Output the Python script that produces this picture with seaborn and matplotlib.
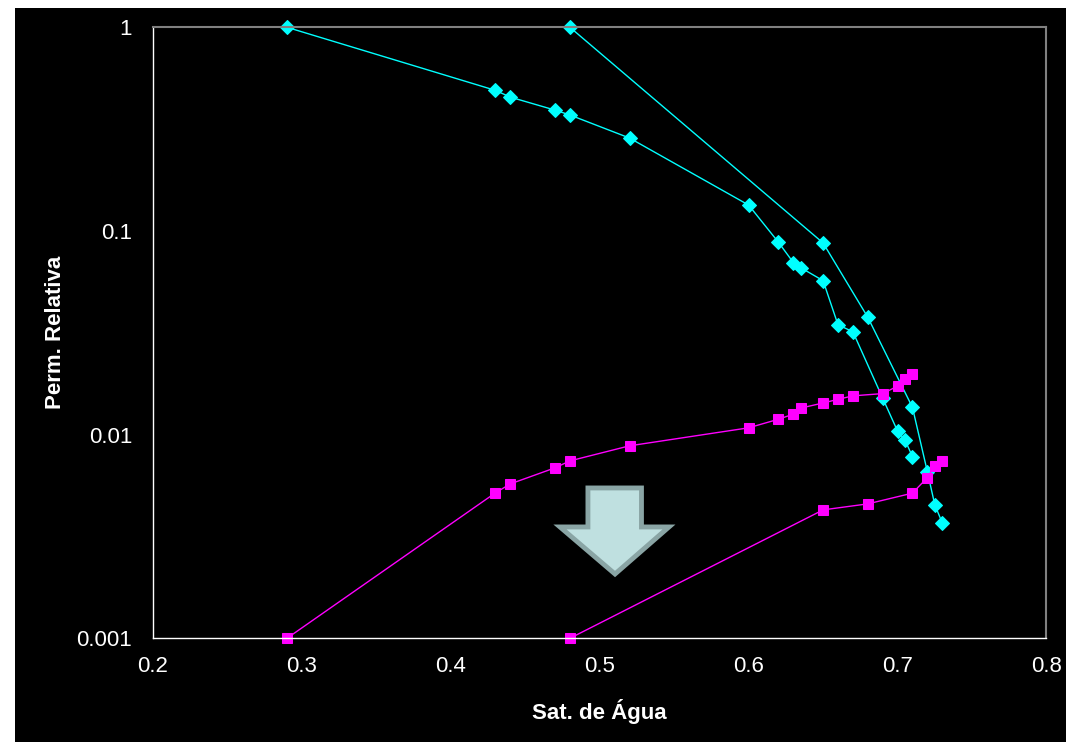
import matplotlib
matplotlib.use('Agg')
import matplotlib.pyplot as plt
from matplotlib.patches import Rectangle, Polygon
import seaborn as sns
import pandas as pd

# Curvas de permeabilidade relativa
sw_a = [0.29, 0.43, 0.44, 0.47, 0.48, 0.52, 0.60, 0.62, 0.63, 0.635,
        0.65, 0.66, 0.67, 0.69, 0.70, 0.705, 0.71]
kro_a = [1.0, 0.49, 0.454, 0.392, 0.371, 0.286, 0.134, 0.088, 0.070, 0.066,
         0.057, 0.0346, 0.032, 0.0151, 0.0104, 0.0094, 0.0078]
krw_a = [0.001, 0.00518, 0.00573, 0.00687, 0.00743, 0.00881, 0.0108, 0.0119,
         0.0126, 0.0135, 0.0143, 0.0149, 0.0155, 0.0159, 0.0173, 0.0188, 0.0198]

sw_b = [0.48, 0.65, 0.68, 0.71, 0.72, 0.725, 0.73]
kro_b = [1.0, 0.0873, 0.0377, 0.0136, 0.00658, 0.00452, 0.00369]
krw_b = [0.001, 0.00427, 0.00457, 0.00516, 0.00615, 0.00704, 0.00745]

xticks = [0.2, 0.3, 0.4, 0.5, 0.6, 0.7, 0.8]
yticks = [0.001, 0.01, 0.1, 1]
ytick_labels = ['0.001', '0.01', '0.1', '1']

sns.set_style('dark')
plt.rcParams['font.family'] = ['Liberation Sans', 'DejaVu Sans']

fig = plt.figure(figsize=(10.66, 7.42), dpi=100, facecolor='white')
# fundo preto (deixa uma borda branca em cima e a esquerda)
fig.patches.append(Rectangle((15 / 1066, 0), 1 - 15 / 1066, 1 - 8 / 742,
                             transform=fig.transFigure, facecolor='black',
                             edgecolor='none', zorder=-10))
ax = fig.add_axes([0.1435, 0.1398, 0.9817 - 0.1435, 0.9632 - 0.1398])
ax.set_zorder(1)
ax.set_facecolor('black')

series = [
    (sw_a, kro_a, '#00FFFF', 'D', 7),
    (sw_b, kro_b, '#00FFFF', 'D', 7),
    (sw_a, krw_a, '#FF00FF', 's', 6.5),
    (sw_b, krw_b, '#FF00FF', 's', 6.5),
]
for sw, kr, cor, mk, ms in series:
    df = pd.DataFrame({'Sw': sw, 'kr': kr})
    sns.lineplot(data=df, x='Sw', y='kr', ax=ax, color=cor, marker=mk,
                 markersize=ms, markeredgecolor=cor, linewidth=1.0,
                 sort=False, estimator=None, clip_on=False)

ax.set_yscale('log')
ax.set_xlim(0.2, 0.8)
ax.set_ylim(0.001, 1)
ax.set_xticks(xticks)
ax.set_xticklabels([f'{v:.1f}' for v in xticks])
ax.set_yticks(yticks)
ax.set_yticklabels(ytick_labels)
ax.minorticks_off()
ax.grid(False)

ax.tick_params(axis='x', direction='inout', length=10, width=1, colors='white',
               labelsize=16, pad=8)
ax.tick_params(axis='y', direction='out', length=5, width=1, colors='white',
               labelsize=16, pad=10)

for lado in ['left', 'bottom']:
    ax.spines[lado].set_color('white')
    ax.spines[lado].set_linewidth(1.0)
for lado in ['top', 'right']:
    ax.spines[lado].set_color('#808080')
    ax.spines[lado].set_linewidth(1.5)
    ax.spines[lado].set_visible(True)

ax.set_xlabel('Sat. de Água', color='white', fontsize=16, fontweight='bold')
ax.set_ylabel('Perm. Relativa', color='white', fontsize=16, fontweight='bold')
ax.xaxis.set_label_coords(0.5, -0.10)
ax.yaxis.set_label_coords(-0.0975, 0.5)

# seta decorativa
seta = [(0.4868, 0.246), (0.5467, 0.246), (0.5467, 0.1822), (0.5775, 0.1822),
        (0.5171, 0.1052), (0.4555, 0.1822), (0.4868, 0.1822)]
ax.add_patch(Polygon(seta, closed=True, transform=ax.transAxes,
                     facecolor='#BFE0E0', edgecolor='#8AA5A5', linewidth=3.5,
                     joinstyle='miter', zorder=5))

fig.savefig('out.png', dpi=100, facecolor='white')
